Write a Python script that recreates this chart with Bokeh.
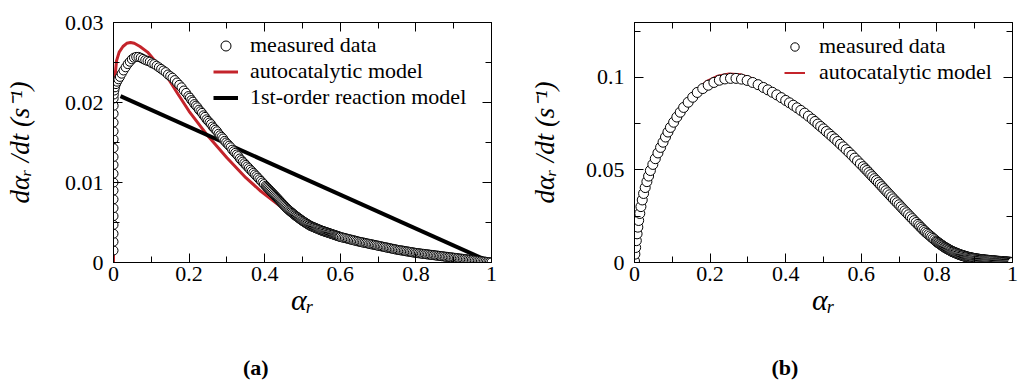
from bokeh.plotting import figure
from bokeh.models import Range1d, FixedTicker, LinearAxis, Legend, LegendItem
from bokeh.layouts import row
from bokeh.embed import file_html
from bokeh.resources import INLINE

# ------------------------------------------------------------------ data
# panel (a): measured data (alpha_r, d alpha_r/dt)
a_measured = [
    (0.0, 0.0015), (0.0, 0.0026), (0.0, 0.0036), (0.0, 0.0047), (0.0, 0.0058), (0.0, 0.0068),
    (0.0, 0.0079), (0.0, 0.0090), (0.0, 0.0100), (0.0, 0.0111), (0.0, 0.0122), (0.0, 0.0132),
    (0.0, 0.0143), (0.0001, 0.0154), (0.0001, 0.0164), (0.0002, 0.0175), (0.0002, 0.0186),
    (0.0003, 0.0196), (0.0004, 0.0205),
    (0.0008, 0.0210), (0.0022, 0.0215), (0.0040, 0.0219), (0.0065, 0.0223), (0.0095, 0.0226),
    (0.0130, 0.0229), (0.0170, 0.0232), (0.0215, 0.0236), (0.0265, 0.0240), (0.0320, 0.0244),
    (0.0375, 0.0248), (0.0430, 0.0251), (0.0485, 0.0254), (0.0540, 0.0256), (0.0600, 0.0257),
    (0.0660, 0.0257), (0.0720, 0.0256),
    (0.078, 0.02545), (0.084, 0.0253), (0.090, 0.0252), (0.096, 0.0251), (0.102, 0.0249),
    (0.108, 0.0248), (0.114, 0.0246), (0.120, 0.0244), (0.126, 0.0242), (0.132, 0.0240),
    (0.138, 0.0238), (0.144, 0.0235), (0.150, 0.0233), (0.156, 0.0231), (0.162, 0.0228),
    (0.168, 0.0225), (0.174, 0.0222), (0.180, 0.0219), (0.186, 0.0215), (0.192, 0.0212),
    (0.198, 0.0208),
    (0.202, 0.0206), (0.206, 0.0203), (0.210, 0.0201), (0.214, 0.0198), (0.218, 0.0196),
    (0.222, 0.0194), (0.226, 0.0191), (0.230, 0.0189), (0.234, 0.0187), (0.238, 0.0184),
    (0.242, 0.0182), (0.246, 0.0179), (0.250, 0.0177), (0.254, 0.0175), (0.258, 0.0173),
    (0.262, 0.0170), (0.266, 0.0168), (0.270, 0.0166), (0.274, 0.0164), (0.278, 0.0161),
    (0.282, 0.0159), (0.286, 0.0157), (0.290, 0.0155), (0.294, 0.0152), (0.298, 0.0150),
    (0.302, 0.0148), (0.306, 0.0146), (0.310, 0.0144), (0.314, 0.0141), (0.318, 0.0139),
    (0.322, 0.0137), (0.326, 0.0135), (0.330, 0.0133), (0.334, 0.0130), (0.338, 0.0128),
    (0.342, 0.0126), (0.346, 0.0124), (0.350, 0.0122), (0.354, 0.0120), (0.358, 0.0118),
    (0.362, 0.0116), (0.366, 0.0114), (0.370, 0.0112), (0.374, 0.0110), (0.378, 0.0108),
    (0.382, 0.0106), (0.386, 0.0104), (0.390, 0.0102), (0.394, 0.0100), (0.398, 0.0098),
    (0.4025, 0.00958), (0.4050, 0.00945), (0.4075, 0.00933), (0.4100, 0.00920), (0.4125, 0.00908),
    (0.4150, 0.00895), (0.4175, 0.00883), (0.4200, 0.00870), (0.4225, 0.00858), (0.4250, 0.00845),
    (0.4275, 0.00833), (0.4300, 0.00820), (0.4325, 0.00808), (0.4350, 0.00795), (0.4375, 0.00783),
    (0.4400, 0.00770), (0.4425, 0.00758), (0.4450, 0.00745), (0.4475, 0.00733), (0.4500, 0.00720),
    (0.4525, 0.00708), (0.4550, 0.00695), (0.4575, 0.00683), (0.4600, 0.00670), (0.4625, 0.00660),
    (0.4650, 0.00650), (0.4675, 0.00640), (0.4700, 0.00630), (0.4725, 0.00620), (0.4750, 0.00610),
    (0.4775, 0.00600), (0.4800, 0.00590), (0.4825, 0.00581), (0.4850, 0.00573), (0.4875, 0.00564),
    (0.4900, 0.00555), (0.4925, 0.00546), (0.4950, 0.00538), (0.4975, 0.00529), (0.5000, 0.00520),
    (0.5025, 0.00513), (0.5050, 0.00505), (0.5075, 0.00498), (0.5100, 0.00490), (0.5125, 0.00483),
    (0.5150, 0.00475), (0.5175, 0.00468), (0.5200, 0.00460), (0.5225, 0.00455), (0.5250, 0.00450),
    (0.5275, 0.00445), (0.5300, 0.00440), (0.5325, 0.00435), (0.5350, 0.00430), (0.5375, 0.00425),
    (0.5400, 0.00420), (0.5425, 0.00415), (0.5450, 0.00410), (0.5475, 0.00405), (0.5500, 0.00400),
    (0.5525, 0.00396), (0.5550, 0.00392), (0.5575, 0.00388), (0.5600, 0.00384), (0.5625, 0.00380),
    (0.5650, 0.00376), (0.5675, 0.00372), (0.5700, 0.00368), (0.5725, 0.00364), (0.5750, 0.00360),
    (0.5775, 0.00356), (0.5800, 0.00352), (0.5825, 0.00348), (0.5850, 0.00344), (0.5875, 0.00340),
    (0.5900, 0.00336), (0.5925, 0.00332), (0.5950, 0.00328), (0.5975, 0.00324), (0.6000, 0.00320),
    (0.604, 0.00315), (0.608, 0.00310), (0.612, 0.00306), (0.616, 0.00301), (0.620, 0.00296),
    (0.624, 0.00291), (0.628, 0.00286), (0.632, 0.00282), (0.636, 0.00277), (0.640, 0.00272),
    (0.644, 0.00267), (0.648, 0.00262), (0.652, 0.00258), (0.656, 0.00254), (0.660, 0.00250),
    (0.664, 0.00246), (0.668, 0.00242), (0.672, 0.00238), (0.676, 0.00234), (0.680, 0.00230),
    (0.684, 0.00226), (0.688, 0.00222), (0.692, 0.00218), (0.696, 0.00214), (0.700, 0.00210),
    (0.704, 0.00206), (0.708, 0.00202), (0.712, 0.00198), (0.716, 0.00194), (0.720, 0.00190),
    (0.724, 0.00186), (0.728, 0.00182), (0.732, 0.00178), (0.736, 0.00174), (0.740, 0.00170),
    (0.744, 0.00166), (0.748, 0.00162), (0.752, 0.00158), (0.756, 0.00155), (0.760, 0.00152),
    (0.764, 0.00149), (0.768, 0.00146), (0.772, 0.00142), (0.776, 0.00139), (0.780, 0.00136),
    (0.784, 0.00133), (0.788, 0.00130), (0.792, 0.00126), (0.796, 0.00123), (0.800, 0.00120),
    (0.804, 0.00118), (0.808, 0.00115), (0.812, 0.00113), (0.816, 0.00110), (0.820, 0.00108),
    (0.824, 0.00106), (0.828, 0.00103), (0.832, 0.00101), (0.836, 0.00098), (0.840, 0.00096),
    (0.844, 0.00094), (0.848, 0.00091), (0.852, 0.00089), (0.856, 0.00086), (0.860, 0.00084),
    (0.864, 0.00082), (0.868, 0.00079), (0.872, 0.00077), (0.876, 0.00074), (0.880, 0.00072),
    (0.884, 0.00070), (0.888, 0.00067), (0.892, 0.00065), (0.896, 0.00062), (0.900, 0.00060),
    (0.904, 0.00058), (0.908, 0.00055), (0.912, 0.00053), (0.916, 0.00050), (0.920, 0.00048),
    (0.924, 0.00046), (0.928, 0.00043), (0.932, 0.00041), (0.936, 0.00038), (0.940, 0.00036),
    (0.944, 0.00034), (0.948, 0.00031), (0.952, 0.00029), (0.956, 0.00026), (0.960, 0.00024),
    (0.964, 0.00022), (0.968, 0.00019), (0.972, 0.00017), (0.976, 0.00014), (0.980, 0.00012),
    (0.984, 0.00010), (0.988, 0.00007), (0.992, 0.00005), (0.996, 0.00002), (1.000, 0.00000),
]
# panel (a): autocatalytic model
a_auto = [
    (0.0, 0.0), (0.001, 0.010), (0.002, 0.018), (0.004, 0.0232), (0.008, 0.0252), (0.015, 0.0263),
    (0.025, 0.0270), (0.035, 0.0274), (0.045, 0.0275), (0.055, 0.0274), (0.07, 0.0270),
    (0.09, 0.0263), (0.11, 0.0252), (0.13, 0.0240), (0.15, 0.0226), (0.17, 0.0211),
    (0.20, 0.0189), (0.25, 0.0158), (0.30, 0.0131), (0.35, 0.0106), (0.39, 0.0089),
    (0.42, 0.0078), (0.45, 0.0067), (0.50, 0.0053), (0.55, 0.0043), (0.60, 0.0035),
    (0.70, 0.0022), (0.80, 0.0013), (0.90, 0.0006), (1.0, 0.0),
]
# panel (a): 1st-order reaction model
a_first = [(0.0185, 0.0208), (1.0, 0.0)]

# panel (b): measured data
b_measured = [
    (0.0000, 0.0008), (0.0010, 0.0045), (0.0030, 0.0081), (0.0048, 0.0118), (0.0068, 0.0155),
    (0.0088, 0.0191), (0.0110, 0.0227), (0.0140, 0.0265), (0.0170, 0.0302), (0.0205, 0.0338),
    (0.0240, 0.0373), (0.0283, 0.0405), (0.0328, 0.0437), (0.0373, 0.0467), (0.0420, 0.0497),
    (0.0485, 0.0530), (0.0550, 0.0561), (0.0620, 0.0592), (0.0690, 0.0622), (0.0755, 0.0650),
    (0.0820, 0.0678), (0.0885, 0.0705), (0.0950, 0.0730), (0.1035, 0.0758), (0.1120, 0.0786),
    (0.1210, 0.0812), (0.1300, 0.0838), (0.1420, 0.0866), (0.1540, 0.0893), (0.1660, 0.0919),
    (0.1805, 0.0940), (0.1950, 0.0958), (0.2100, 0.0973), (0.2245, 0.0985), (0.2390, 0.0992),
    (0.2540, 0.0995), (0.2685, 0.0995), (0.2830, 0.0991), (0.2980, 0.0984), (0.3125, 0.0973),
    (0.3270, 0.0961), (0.3410, 0.0946), (0.3528, 0.0933), (0.3646, 0.0920), (0.3764, 0.0906),
    (0.3882, 0.0891), (0.4000, 0.0876), (0.4100, 0.0863), (0.4200, 0.0850), (0.4300, 0.0836),
    (0.4400, 0.0822), (0.4500, 0.0807), (0.4600, 0.0791), (0.4700, 0.0775),
    (0.4775, 0.0762), (0.4850, 0.0748), (0.4925, 0.0735), (0.5000, 0.0722), (0.5075, 0.0708),
    (0.5150, 0.0695), (0.5225, 0.0681), (0.5300, 0.0668), (0.5375, 0.0654), (0.5450, 0.0639),
    (0.5525, 0.0625), (0.5600, 0.0610), (0.5675, 0.0595), (0.5750, 0.0580), (0.5825, 0.0564),
    (0.5900, 0.0549), (0.5975, 0.0533),
    (0.605, 0.0518), (0.610, 0.0507), (0.615, 0.0497), (0.620, 0.0486), (0.625, 0.0475),
    (0.630, 0.0464), (0.635, 0.0453), (0.640, 0.0443), (0.645, 0.0432), (0.650, 0.0421),
    (0.655, 0.0410), (0.660, 0.0399), (0.665, 0.0388), (0.670, 0.0377), (0.675, 0.0366),
    (0.680, 0.0355), (0.685, 0.0344), (0.690, 0.0333), (0.695, 0.0323), (0.700, 0.0312),
    (0.705, 0.0301), (0.710, 0.0290), (0.715, 0.0279), (0.720, 0.0269), (0.725, 0.0258),
    (0.730, 0.0247), (0.735, 0.0237), (0.740, 0.0226), (0.745, 0.0216), (0.750, 0.0206),
    (0.754, 0.0198), (0.758, 0.0189), (0.762, 0.0181), (0.766, 0.0173), (0.770, 0.0165),
    (0.774, 0.0158), (0.778, 0.0151), (0.782, 0.0144), (0.786, 0.0137), (0.790, 0.0130),
    (0.794, 0.0123), (0.798, 0.0116),
    (0.8000, 0.01120), (0.8025, 0.01084), (0.8050, 0.01048), (0.8075, 0.01011), (0.8100, 0.00975),
    (0.8125, 0.00939), (0.8150, 0.00903), (0.8175, 0.00866), (0.8200, 0.00830), (0.8225, 0.00801),
    (0.8250, 0.00773), (0.8275, 0.00744), (0.8300, 0.00715), (0.8325, 0.00686), (0.8350, 0.00658),
    (0.8375, 0.00629), (0.8400, 0.00600), (0.8425, 0.00579), (0.8450, 0.00558), (0.8475, 0.00536),
    (0.8500, 0.00515), (0.8525, 0.00494), (0.8550, 0.00473), (0.8575, 0.00451), (0.8600, 0.00430),
    (0.8625, 0.00414), (0.8650, 0.00398), (0.8675, 0.00381), (0.8700, 0.00365), (0.8725, 0.00349),
    (0.8750, 0.00333), (0.8775, 0.00316), (0.8800, 0.00300), (0.8825, 0.00289), (0.8850, 0.00278),
    (0.8875, 0.00266), (0.8900, 0.00255), (0.8925, 0.00244), (0.8950, 0.00233), (0.8975, 0.00221),
    (0.9000, 0.00210), (0.9025, 0.00203), (0.9050, 0.00195), (0.9075, 0.00188), (0.9100, 0.00180),
    (0.9125, 0.00173), (0.9150, 0.00165), (0.9175, 0.00158), (0.9200, 0.00150), (0.9225, 0.00145),
    (0.9250, 0.00140), (0.9275, 0.00135), (0.9300, 0.00130), (0.9325, 0.00125), (0.9350, 0.00120),
    (0.9375, 0.00115), (0.9400, 0.00110), (0.9425, 0.00105), (0.9450, 0.00100), (0.9475, 0.00095),
    (0.9500, 0.00090), (0.9525, 0.00085), (0.9550, 0.00080), (0.9575, 0.00075), (0.9600, 0.00070),
    (0.9625, 0.00066), (0.9650, 0.00063), (0.9675, 0.00059), (0.9700, 0.00055), (0.9725, 0.00051),
    (0.9750, 0.00048), (0.9775, 0.00044), (0.9800, 0.00040), (0.9825, 0.00035), (0.9850, 0.00030),
    (0.9875, 0.00025), (0.9900, 0.00020), (0.9925, 0.00015), (0.9950, 0.00010), (0.9975, 0.00005),
    (1.0000, 0.00000),
]
# panel (b): autocatalytic model
b_auto = [
    (0.0, 0.0), (0.003, 0.0081), (0.011, 0.0227), (0.024, 0.0373), (0.042, 0.0497),
    (0.069, 0.0622), (0.095, 0.0730), (0.13, 0.0845), (0.16, 0.0925), (0.19, 0.0980),
    (0.22, 0.1010), (0.25, 0.1022), (0.28, 0.1018), (0.31, 0.0998), (0.34, 0.0962),
    (0.37, 0.0920), (0.40, 0.0876), (0.44, 0.0816), (0.48, 0.0745), (0.52, 0.0668),
    (0.56, 0.0585), (0.60, 0.0500), (0.64, 0.0412), (0.68, 0.0325), (0.72, 0.0245),
    (0.76, 0.0172), (0.80, 0.0108), (0.84, 0.0058), (0.88, 0.0028), (0.92, 0.0014),
    (0.96, 0.0006), (1.0, 0.0),
]

# axes ticks and labels
x_ticks = [0, 0.2, 0.4, 0.6, 0.8, 1]
x_tick_labels = ["0", "0.2", "0.4", "0.6", "0.8", "1"]
x_minor = [0.1, 0.3, 0.5, 0.7, 0.9]
a_y_ticks = [0, 0.01, 0.02, 0.03]
a_y_tick_labels = ["0", "0.01", "0.02", "0.03"]
a_y_minor = [0.005, 0.015, 0.025]
b_y_ticks = [0, 0.05, 0.1]
b_y_tick_labels = ["0", "0.05", "0.1"]
b_y_minor = [0.025, 0.075, 0.125]
a_y_max = 0.03
b_y_max = 0.1297

series_labels = ["measured data", "autocatalytic model", "1st-order reaction model"]
panel_labels = ["(a)", "(b)"]
y_label_text = "dαᵣ /dt (s⁻¹)"
x_label_text = "αᵣ"

# ------------------------------------------------------------------ style
FONT = "Liberation Serif"
RED = "#c4242b"
NBSP = "\u00a0"


def xs(pairs):
    return [p[0] for p in pairs]


def ys(pairs):
    return [p[1] for p in pairs]


def style_axis(ax, ticks, minor, labels=None):
    ax.ticker = FixedTicker(ticks=ticks, minor_ticks=minor)
    ax.major_tick_in = 9
    ax.major_tick_out = 0
    ax.minor_tick_in = 6
    ax.minor_tick_out = 0
    ax.axis_line_color = "black"
    ax.major_tick_line_color = "black"
    ax.minor_tick_line_color = "black"
    ax.axis_line_width = 1
    if labels is not None:
        ax.major_label_overrides = {t: l for t, l in zip(ticks, labels)}
        ax.major_label_text_font = FONT
        ax.major_label_text_font_size = "22px"
        ax.major_label_text_color = "black"
    else:
        ax.major_label_overrides = {t: "" for t in ticks}
        ax.major_label_text_font_size = "1px"
        ax.major_label_standoff = 0


def style_label(ax, text, size, standoff, style="italic"):
    ax.axis_label = text
    ax.axis_label_text_font = FONT
    ax.axis_label_text_font_style = style
    ax.axis_label_text_font_size = size
    ax.axis_label_text_color = "black"
    ax.axis_label_standoff = standoff


def make_panel(left, right, ymax, yticks, ylabels, yminor, ylab_standoff, caption, pad):
    p = figure(frame_width=378, frame_height=240,
               min_border_left=left, min_border_right=right,
               min_border_top=22, min_border_bottom=120,
               x_range=Range1d(0, 1), y_range=Range1d(0, ymax),
               output_backend="svg", toolbar_location=None)
    p.xgrid.visible = False
    p.ygrid.visible = False
    p.outline_line_color = "black"
    p.background_fill_color = "white"
    p.border_fill_color = "white"
    xa = p.xaxis[0]
    style_axis(xa, x_ticks, x_minor, x_tick_labels)
    xa.major_label_standoff = 4
    style_label(xa, x_label_text, "30px", -1)
    yax = p.yaxis[0]
    style_axis(yax, yticks, yminor, ylabels)
    yax.major_label_standoff = 10
    style_label(yax, y_label_text, "27px", ylab_standoff)
    top = LinearAxis()
    style_axis(top, x_ticks, x_minor)
    p.add_layout(top, "above")
    rgt = LinearAxis()
    style_axis(rgt, yticks, yminor)
    p.add_layout(rgt, "right")
    # caption "(a)" / "(b)" as the title of an empty axis under the x axis
    cap = LinearAxis(ticker=FixedTicker(ticks=[]), axis_line_color=None,
                     major_tick_in=0, major_tick_out=0, minor_tick_in=0, minor_tick_out=0,
                     major_label_standoff=0)
    style_label(cap, caption + NBSP * pad, "22px", 36, style="bold")
    p.add_layout(cap, "below")
    return p


def make_legend(items, loc, gw, standoff):
    return Legend(items=items, location=loc, border_line_color=None,
                  background_fill_alpha=0, padding=0, margin=0, spacing=0,
                  glyph_width=gw, glyph_height=25, label_height=25, label_standoff=standoff,
                  label_text_font=FONT, label_text_font_size="22px", label_text_color="black")


# ------------------------------------------------------------------ panel (a)
pa = make_panel(113, 21, a_y_max, a_y_ticks, a_y_tick_labels, a_y_minor, 27, panel_labels[0], 17)
ra = pa.line(xs(a_auto), ys(a_auto), line_color=RED, line_width=3)
ka = pa.line(xs(a_first), ys(a_first), line_color="black", line_width=4)
ma = pa.scatter(xs(a_measured), ys(a_measured), marker="circle", size=9,
                fill_color="white", line_color="black", line_width=1)
pa.add_layout(make_legend([LegendItem(label=series_labels[0], renderers=[ma]),
                           LegendItem(label=series_labels[1], renderers=[ra]),
                           LegendItem(label=series_labels[2], renderers=[ka])],
                          (100, 152), 25, 12))

# ------------------------------------------------------------------ panel (b)
pb = make_panel(122, 8, b_y_max, b_y_ticks, b_y_tick_labels, b_y_minor, 23, panel_labels[1], 14)
rb = pb.line(xs(b_auto), ys(b_auto), line_color=RED, line_width=2)
mb = pb.scatter(xs(b_measured), ys(b_measured), marker="circle", size=10,
                fill_color="white", line_color="black", line_width=1)
pb.add_layout(make_legend([LegendItem(label=series_labels[0], renderers=[mb]),
                           LegendItem(label=series_labels[1], renderers=[rb])],
                          (150, 177), 21, 14))

layout = row(pa, pb)
open("out.html", "w").write(file_html(layout, INLINE))
